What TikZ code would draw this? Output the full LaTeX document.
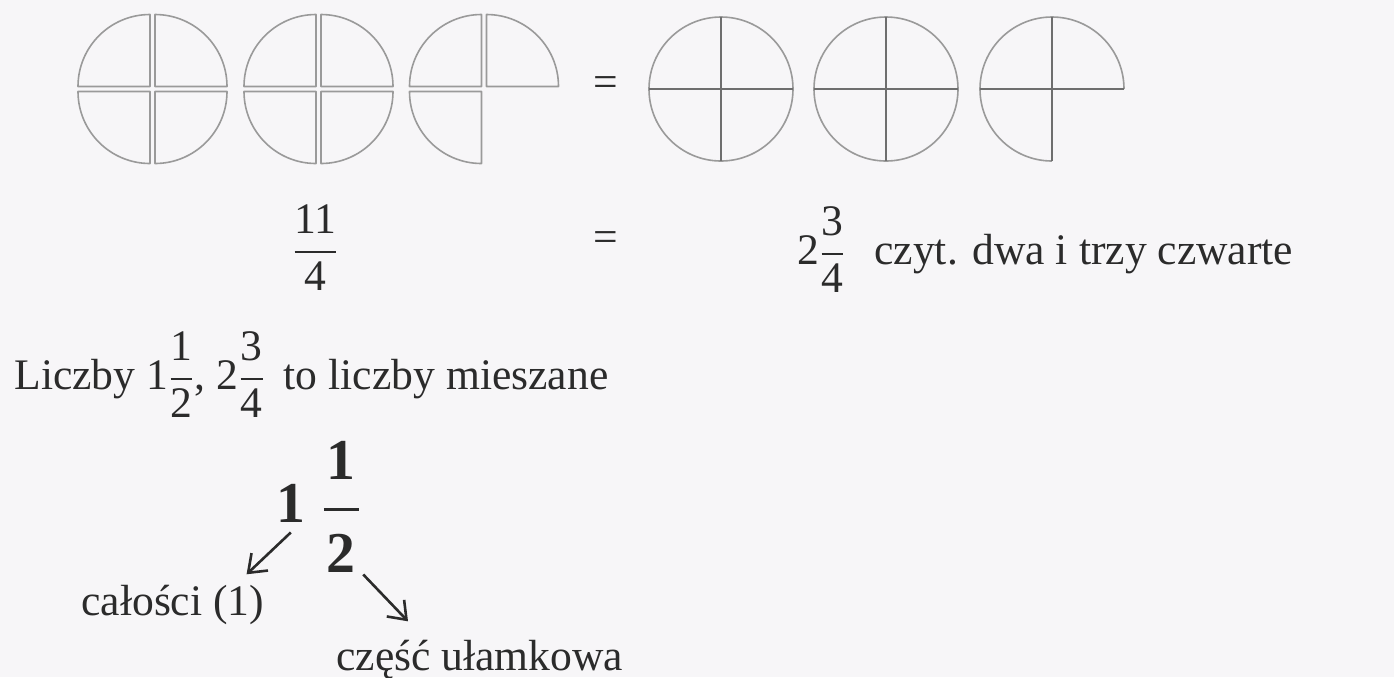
\documentclass[tikz,border=0pt]{standalone}
\usepackage{amsmath}
\usepackage{fontspec}
\setmainfont{Liberation Serif}
\usetikzlibrary{arrows.meta,calc}
\definecolor{papier}{HTML}{F7F6F8}
\definecolor{tusz}{HTML}{2B2B2B}
\definecolor{kreska}{HTML}{9A9A9A}
\definecolor{krzyz}{HTML}{6E6E6E}
\newcommand{\ulam}[2]{\genfrac{}{}{1.1pt}{0}{\text{#1}}{\text{#2}}}
\newcommand{\ulamb}[2]{\genfrac{}{}{1.5pt}{0}{\text{\kern1.5pt#1\kern1.5pt}\rule[-0.34em]{0pt}{0.34em}}{\text{\kern1.5pt#2\kern1.5pt}\rule{0pt}{0.9em}}}
\tikzset{
  >={Straight Barb[length=8pt,width=12pt]},
  % kola
  cw/.style={draw=kreska,line width=0.8pt,line join=round},
  ck/.style={draw=krzyz,line width=0.8pt},
  % teksty
  tx/.style={text=tusz,inner sep=0pt,font=\fontsize{21.8}{26}\selectfont},
  tb/.style={text=tusz,inner sep=0pt,font=\fontsize{28.9}{34}\selectfont\bfseries},
  strz/.style={->,draw=tusz,line width=1.3pt},
}

\begin{document}
\begin{tikzpicture}[x=0.5pt,y=-0.5pt]
\useasboundingbox (0,0) rectangle (1394,677);
\fill[papier] (0,0) rectangle (1394,677);
  % cwiartki
  \coordinate (k1) at (152.5,89);
  \coordinate (k2) at (318.5,89);
  \coordinate (k3) at (484,89);
  \foreach \c in {k1,k2}
    \foreach \a/\sx/\sy in {0/1/1,90/-1/1,180/-1/-1,270/1/-1}
      \draw[cw] ($(\c)+(2.5*\sx,2.5*\sy)$) -- ++(\a:72) arc[start angle=\a,end angle=\a+90,radius=72] -- cycle;
  \foreach \a/\sx/\sy in {90/-1/1,180/-1/-1,270/1/-1}
    \draw[cw] ($(k3)+(2.5*\sx,2.5*\sy)$) -- ++(\a:72) arc[start angle=\a,end angle=\a+90,radius=72] -- cycle;
  % cale kola
  \coordinate (k4) at (721,89);
  \coordinate (k5) at (886,89);
  \coordinate (k6) at (1052,89);
  \foreach \c in {k4,k5}{
    \draw[cw] (\c) circle[radius=72];
    \draw[ck] ($(\c)+(-72,0)$) -- ($(\c)+(72,0)$);
    \draw[ck] ($(\c)+(0,-72)$) -- ($(\c)+(0,72)$);
  }
  \draw[cw] ($(k6)+(90:72)$) arc[start angle=90,end angle=360,radius=72];
  \draw[ck] ($(k6)+(-72,0)$) -- ($(k6)+(72,0)$);
  \draw[ck] ($(k6)+(0,-72)$) -- ($(k6)+(0,72)$);
  % napisy
  \node[tx] (rownA) at (606,87) {=};
  \node[tx] (rownB) at (606,242) {=};
  \node[tx,anchor=base] (jedenascie) at (315.5,262) {$\ulam{11}{4}$};
  \node[tx,anchor=base west] (mieszana) at (797,264) {2$\ulam{3}{4}$};
  \node[tx,anchor=base west] (czyt) at (874,264) {czyt. dwa i trzy czwarte};
  \node[tx,anchor=base west] (liczby) at (14,389) {Liczby 1$\ulam{1}{2}$, 2$\ulam{3}{4}$\kern4pt{} to liczby mieszane};
  \node[tb,anchor=base west] (calosc) at (276,522) {1};
  \node[tb,anchor=base west] (czesc) at (321,522) {$\ulamb{1}{2}$};
  \node[tx,anchor=base west] (calosci) at (81,615) {całości (1)};
  \node[tx,anchor=base west] (ulamkowa) at (336,670) {część ułamkowa};
  \draw[strz] ([yshift=-5pt]calosc.south) -- ([shift={(-18,-10)}]calosci.north east);
  \draw[strz] ([xshift=11pt,yshift=-1pt]czesc.south) -- ([shift={(72,-18)}]ulamkowa.north west);
\end{tikzpicture}
\end{document}
